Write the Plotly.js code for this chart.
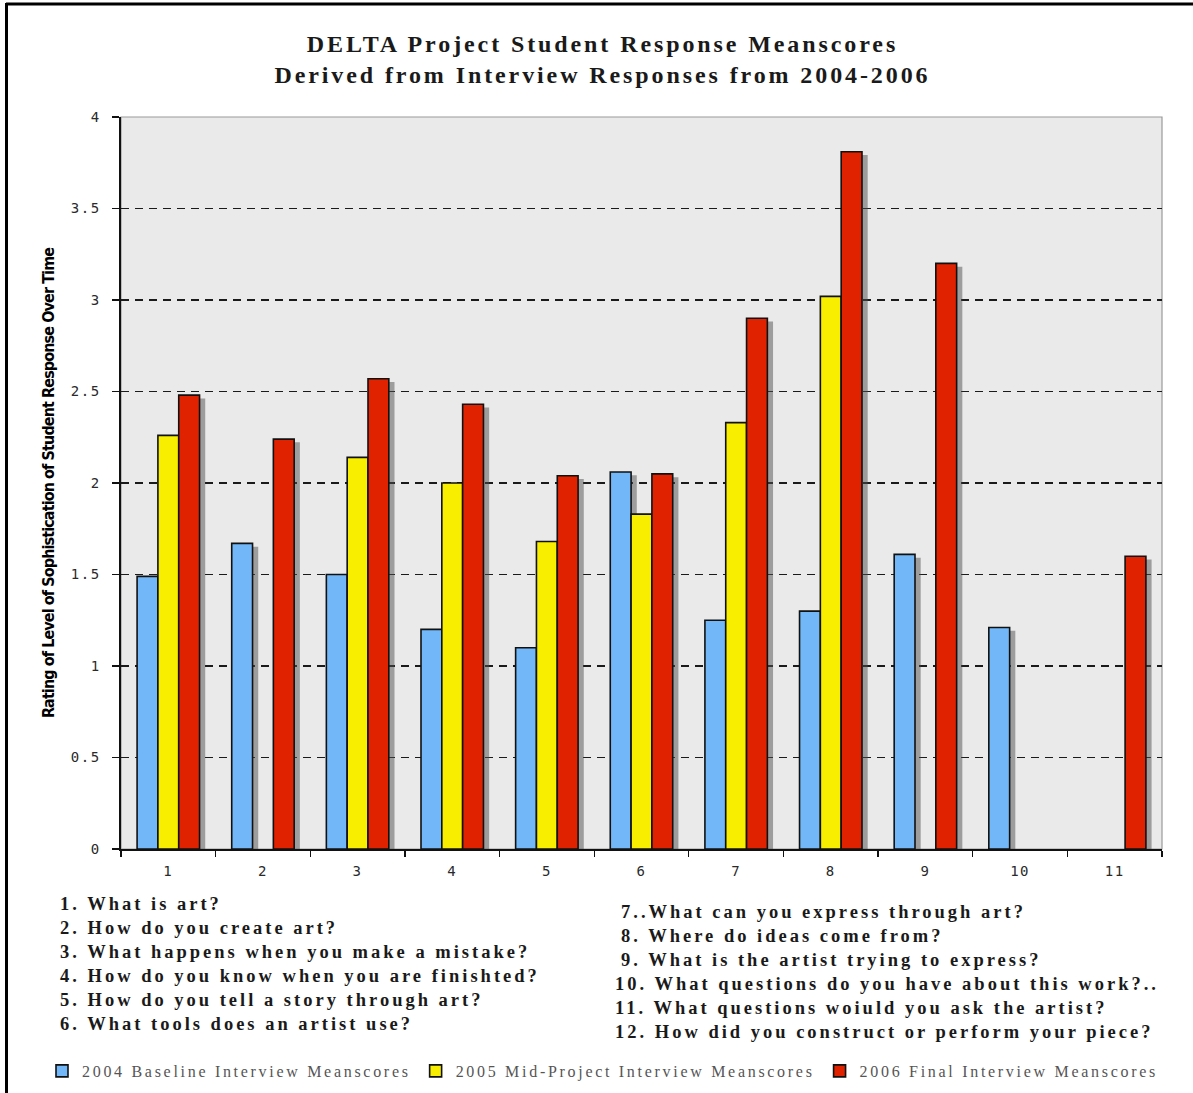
<!DOCTYPE html>
<html>
<head>
<meta charset="utf-8">
<script src="https://cdn.plot.ly/plotly-3.0.1.min.js"></script>
<style>
  html, body { margin: 0; padding: 0; background: #ffffff; }
  #chart { width: 1193px; height: 1093px; }
  .gtitle { letter-spacing: 2.9px; }
  .annotation-text { letter-spacing: 3.0px; }
  .legendtext { letter-spacing: 2.7px; }
  .xtick text, .ytick text { letter-spacing: 1.5px; }
  .ytitle { letter-spacing: -0.9px; }
</style>
</head>
<body>
<div id="chart"></div>
<script>
// Interview question numbers on the x axis
const questions = ['1', '2', '3', '4', '5', '6', '7', '8', '9', '10', '11'];

// Mean scores per question (null = question not asked that year)
const baseline2004 = [1.49, 1.67, 1.50, 1.20, 1.10, 2.06, 1.25, 1.30, 1.61, 1.21, null];
const mid2005      = [2.26, null, 2.14, 2.00, 1.68, 1.83, 2.33, 3.02, null, null, null];
const final2006    = [2.48, 2.24, 2.57, 2.43, 2.04, 2.05, 2.90, 3.81, 3.20, null, 1.60];

const seriesNames = [
  '2004 Baseline Interview Meanscores',
  '2005 Mid-Project Interview Meanscores',
  '2006 Final Interview Meanscores'
];

// Question texts listed under the chart
const questionsLeft = [
  '1. What is art?',
  '2. How do you create art?',
  '3. What happens when you make a mistake?',
  '4. How do you know when you are finishted?',
  '5. How do you tell a story through art?',
  '6. What tools does an artist use?'
];
const questionsRight = [
  '7..What can you express through art?',
  '8. Where do ideas come from?',
  '9. What is the artist trying to express?',
  '10. What questions do you have about this work?..',
  '11. What questions woiuld you ask the artist?',
  '12. How did you construct or perform your piece?'
];

// ---- layout geometry (pixels) ----
const W = 1193, H = 1093;
const M = { l: 121, r: 31, t: 117, b: 244, autoexpand: false };
const PW = W - M.l - M.r, PH = H - M.t - M.b;
const px2x = px => (px - M.l) / PW;
const px2y = py => (H - M.b - py) / PH;

const colors = ['#72B8F8', '#F8EE00', '#E02200'];
const slot = 0.22;
const offsets = [-0.33, -0.11, 0.11];
const seriesValues = [baseline2004, mid2005, final2006];

const traces = [];
// drop shadows behind the bars
seriesValues.forEach((vals, i) => {
  traces.push({
    type: 'bar', x: questions,
    y: vals.map(v => (v == null ? null : Math.max(v - 0.018, 0))),
    offset: offsets[i] + 0.06, width: slot,
    marker: { color: 'rgba(80,80,80,0.5)', line: { width: 0 } },
    showlegend: false, hoverinfo: 'skip'
  });
});
// the bars themselves
seriesValues.forEach((vals, i) => {
  traces.push({
    type: 'bar', x: questions, y: vals, name: seriesNames[i],
    offset: offsets[i], width: slot,
    marker: { color: colors[i], line: { color: '#111111', width: 1.6 } }
  });
});

const tickFont = { family: 'DejaVu Sans Mono', size: 14, color: '#2a2a2a' };
const questionFont = { family: 'Liberation Serif', size: 18.5, color: '#1a1a1a', weight: 'bold' };

// one annotation per question line, evenly spaced
const questionNotes = [];
questionsLeft.forEach((q, i) => {
  questionNotes.push({
    xref: 'paper', yref: 'paper', x: px2x(58), y: px2y(904 + 24 * i),
    xanchor: 'left', yanchor: 'middle', showarrow: false, text: q, font: questionFont
  });
});
questionsRight.forEach((q, i) => {
  questionNotes.push({
    xref: 'paper', yref: 'paper', x: px2x(i < 3 ? 619 : 613), y: px2y(912 + 24 * i),
    xanchor: 'left', yanchor: 'middle', showarrow: false, text: q, font: questionFont
  });
});

const layout = {
  width: W, height: H,
  margin: M,
  paper_bgcolor: '#ffffff',
  plot_bgcolor: '#EAEAEA',
  barmode: 'overlay',
  showlegend: true,
  title: {
    text: 'DELTA Project Student Response Meanscores<br>Derived from Interview Responses from 2004-2006',
    font: { family: 'Liberation Serif', size: 24, color: '#1a1a1a', weight: 'bold' },
    x: 0.505, xanchor: 'center', xref: 'container',
    y: 1 - 52 / H, yanchor: 'middle', yref: 'container'
  },
  xaxis: {
    type: 'category',
    range: [-0.5, 10.5],
    tickson: 'boundaries',
    ticks: 'outside', ticklen: 6, tickwidth: 1.2, tickcolor: '#111',
    showline: true, linecolor: '#111', linewidth: 1.6,
    showgrid: false, zeroline: false,
    tickfont: tickFont,
    ticklabelstandoff: 9,
    automargin: false,
    fixedrange: true
  },
  yaxis: {
    range: [0, 4], dtick: 0.5, tick0: 0,
    ticks: 'outside', ticklen: 7, tickwidth: 1.2, tickcolor: '#111',
    showline: true, linecolor: '#111', linewidth: 1.6,
    showgrid: true, gridcolor: '#1a1a1a', gridwidth: 1.8, griddash: '8px,6px',
    zeroline: false,
    tickfont: tickFont,
    ticklabelstandoff: 9,
    automargin: false,
    title: {
      text: 'Rating of Level of Sophistication of Student Response Over Time',
      font: { family: 'Liberation Sans Narrow, DejaVu Sans Condensed', size: 16, color: '#000', weight: 'bold' },
      standoff: 12
    },
    fixedrange: true
  },
  legend: {
    orientation: 'h',
    x: px2x(42), xanchor: 'left',
    y: px2y(1071), yanchor: 'middle',
    font: { family: 'Liberation Serif', size: 16, color: '#555555' },
    bgcolor: 'rgba(0,0,0,0)',
    itemclick: false, itemdoubleclick: false,
    traceorder: 'normal'
  },
  shapes: [
    // light frame around the plotting area (top and right)
    { type: 'rect', xref: 'paper', yref: 'paper', x0: 0, x1: 1, y0: 0, y1: 1,
      line: { color: '#9a9a9a', width: 1.2 }, layer: 'below' },
    // page frame lines
    { type: 'line', xref: 'paper', yref: 'paper', x0: px2x(6), x1: px2x(W), y0: px2y(4), y1: px2y(4),
      line: { color: '#000', width: 3 } },
    { type: 'line', xref: 'paper', yref: 'paper', x0: px2x(6.5), x1: px2x(6.5), y0: px2y(3), y1: px2y(H),
      line: { color: '#000', width: 3 } }
  ],
  annotations: questionNotes
};

Plotly.newPlot('chart', traces, layout, { displayModeBar: false, staticPlot: true });
</script>
</body>
</html>
